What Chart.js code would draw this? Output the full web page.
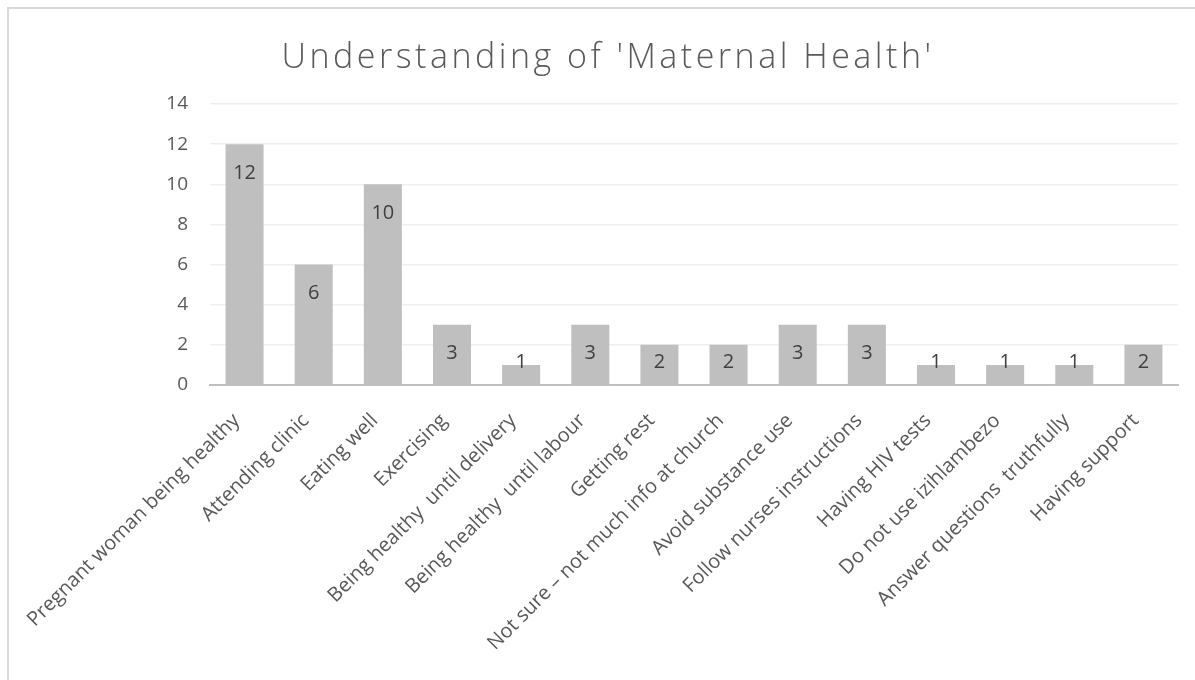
<!DOCTYPE html>
<html>
<head>
<meta charset="utf-8">
<script src="https://cdn.jsdelivr.net/npm/chart.js@4.4.1/dist/chart.umd.min.js"></script>
<style>
  html, body { margin: 0; padding: 0; background: #fff; }
  #grafico { display: block; }
</style>
</head>
<body>
<canvas id="grafico" width="1195" height="680"></canvas>
<script>
const titulo = "Understanding of 'Maternal Health'";
const categorias = [
  'Pregnant woman being healthy',
  'Attending clinic',
  'Eating well',
  'Exercising',
  'Being healthy  until delivery',
  'Being healthy  until labour',
  'Getting rest',
  'Not sure \u2013 not much info at church',
  'Avoid substance use',
  'Follow nurses instructions',
  'Having HIV tests',
  'Do not use izihlambezo',
  'Answer questions  truthfully',
  'Having support'
];
const valores = [12, 6, 10, 3, 1, 3, 2, 2, 3, 3, 1, 1, 1, 2];
const marcasY = [0, 2, 4, 6, 8, 10, 12, 14];

const fuente = "'Open Sans', 'Liberation Sans', sans-serif";
const gris = '#595959';

// titulo con espaciado entre letras
const tituloEspaciado = {
  id: 'tituloEspaciado',
  afterDraw(chart) {
    const ctx = chart.ctx;
    ctx.save();
    ctx.font = '300 34px ' + fuente;
    ctx.letterSpacing = '3.5px';
    ctx.fillStyle = gris;
    ctx.textAlign = 'center';
    ctx.textBaseline = 'alphabetic';
    ctx.fillText(titulo, 608, 68);
    ctx.restore();
  }
};

// etiquetas de datos dentro de la barra, cerca del extremo
const etiquetasBarras = {
  id: 'etiquetasBarras',
  afterDatasetsDraw(chart) {
    const ctx = chart.ctx;
    const meta = chart.getDatasetMeta(0);
    ctx.save();
    ctx.font = '20px ' + fuente;
    ctx.fillStyle = '#404040';
    ctx.textAlign = 'center';
    ctx.textBaseline = 'middle';
    meta.data.forEach((barra, i) => {
      const y = Math.min(barra.y + 29, barra.base - 22);
      ctx.fillText(String(valores[i]), barra.x, y);
    });
    ctx.restore();
  }
};

// marco del grafico
const marco = {
  id: 'marco',
  beforeDraw(chart) {
    const ctx = chart.ctx;
    ctx.save();
    ctx.strokeStyle = '#d9d9d9';
    ctx.lineWidth = 2;
    ctx.strokeRect(8, 8, 1200, 700);
    ctx.restore();
  }
};

new Chart(document.getElementById('grafico').getContext('2d'), {
  type: 'bar',
  data: {
    labels: categorias,
    datasets: [{
      data: valores,
      backgroundColor: '#bfbfbf',
      categoryPercentage: 1,
      barPercentage: 0.55
    }]
  },
  options: {
    responsive: false,
    animation: false,
    layout: { padding: { left: 0, right: 17, top: 104, bottom: 0 } },
    plugins: {
      legend: { display: false },
      tooltip: { enabled: false },
      title: { display: false }
    },
    scales: {
      x: {
        grid: { display: false, drawTicks: false },
        border: { color: '#bfbfbf', width: 2 },
        ticks: {
          color: gris,
          font: { family: fuente, size: 20 },
          minRotation: 45,
          maxRotation: 45,
          autoSkip: false,
          padding: 24,
          labelOffset: -8
        },
        afterFit(scale) { scale.height = 295; }
      },
      y: {
        min: 0,
        max: 14,
        afterBuildTicks(scale) { scale.ticks = marcasY.map(v => ({ value: v })); },
        grid: { color: '#efefef', lineWidth: 1.5, drawTicks: false },
        border: { display: false },
        ticks: {
          color: gris,
          font: { family: fuente, size: 19 },
          padding: 22
        },
        afterFit(scale) { scale.width = 210; }
      }
    }
  },
  plugins: [etiquetasBarras, marco, tituloEspaciado]
});
</script>
</body>
</html>
